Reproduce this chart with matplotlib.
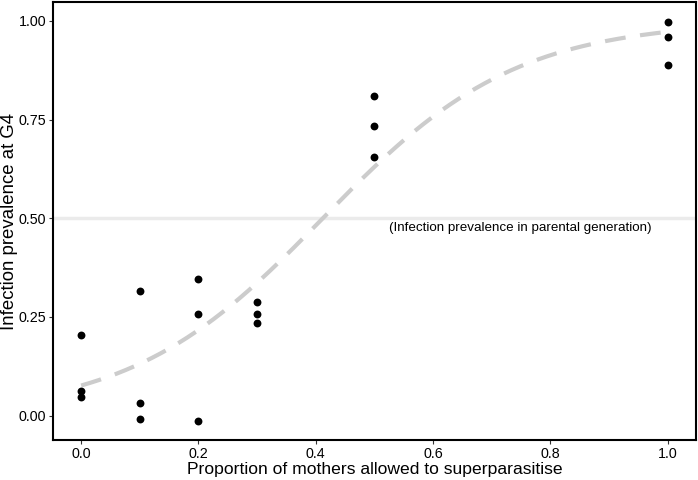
import numpy as np
import matplotlib
matplotlib.use("Agg")
import matplotlib.pyplot as plt

plt.rcParams['font.family'] = ['Liberation Sans', 'DejaVu Sans']

# proportion of mothers allowed to superparasitise, and prevalence at G4
prop = [0.0, 0.0, 0.0, 0.1, 0.1, 0.1, 0.2, 0.2, 0.2, 0.3, 0.3, 0.3, 0.5, 0.5, 0.5, 1.0, 1.0, 1.0]
prev = [0.205, 0.063, 0.046, 0.316, 0.031, -0.008, 0.346, 0.257, -0.014,
        0.289, 0.257, 0.234, 0.81, 0.735, 0.655, 0.998, 0.96, 0.888]
parental = 0.5
xticks = [0.0, 0.2, 0.4, 0.6, 0.8, 1.0]
yticks = [0.0, 0.25, 0.5, 0.75, 1.0]

x = np.array(prop)
y = np.clip(np.array(prev), 0, 1)

# logistic fit (quasi-binomial glm, IRLS)
X = np.column_stack([np.ones_like(x), x])
beta = np.zeros(2)
for i in range(50):
    eta = X @ beta
    mu = 1 / (1 + np.exp(-eta))
    w = mu * (1 - mu)
    z = eta + (y - mu) / w
    beta = np.linalg.solve(X.T @ (X * w[:, None]), X.T @ (w * z))

xs = np.linspace(0, 1, 200)
ys = 1 / (1 + np.exp(-(beta[0] + beta[1] * xs)))

fig = plt.figure(figsize=(6.98, 4.8), dpi=100)
ax = fig.add_axes([0.0759, 0.0833, 0.9212, 0.9125])

ax.axhline(parental, color='#ebebeb', lw=2.5, zorder=1)
ax.text(0.749, parental - 0.01, '(Infection prevalence in parental generation)',
        ha='center', va='top', fontsize=9.65)
ax.plot(xs, ys, color='#cccccc', lw=3, dashes=(5, 3.5), zorder=2)
ax.scatter(prop, prev, color='black', s=32, zorder=3, linewidths=0)

ax.set_xlim(-0.048, 1.048)
ax.set_ylim(-0.062, 1.048)
ax.set_xticks(xticks)
ax.set_xticklabels(['%.1f' % t for t in xticks])
ax.set_yticks(yticks)
ax.set_yticklabels(['%.2f' % t for t in yticks])
ax.tick_params(length=3, width=0.8, color='#333333', labelsize=10.3, pad=2)
for s in ax.spines.values():
    s.set_linewidth(1.5)
ax.set_xlabel('Proportion of mothers allowed to superparasitise', fontsize=12.6, labelpad=1)
ax.set_ylabel('Infection prevalence at G4', fontsize=13.4, labelpad=0.5)

fig.savefig('out.png', dpi=100)
